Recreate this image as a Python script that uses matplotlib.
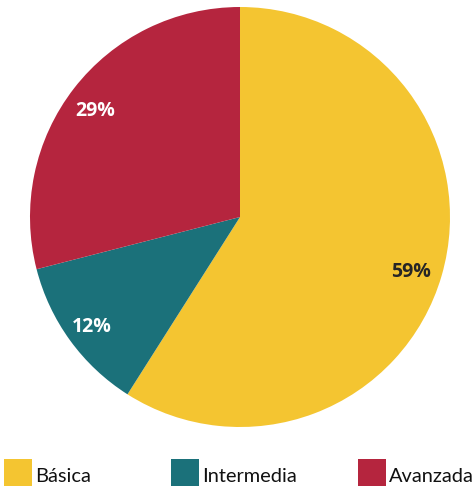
import matplotlib
matplotlib.use("Agg")
import matplotlib.pyplot as plt
from matplotlib.patches import Rectangle

categories = ["Básica", "Intermedia", "Avanzada"]
values = [59, 12, 29]
colors = ["#F4C531", "#1B717A", "#B5253E"]
label_colors = ["#262626", "white", "white"]

plt.rcParams['font.family'] = ['Lato', 'DejaVu Sans']

fig = plt.figure(figsize=(4.75, 4.86), dpi=100)
W, H = 475, 486
cx, cy, r = 240, 217, 210
ax = fig.add_axes([(cx - r) / W, (H - cy - r) / H, 2 * r / W, 2 * r / H])

wedges, texts, autotexts = ax.pie(
    values, colors=colors, startangle=90, counterclock=False,
    autopct=lambda p: f"{p:.0f}%", pctdistance=0.86,
    wedgeprops=dict(linewidth=0))
for t, c in zip(autotexts, label_colors):
    t.set_color(c)
    t.set_fontfamily(['Open Sans', 'DejaVu Sans'])
    t.set_fontsize(14)
    t.set_fontweight('bold')
    x, y = t.get_position()
    t.set_position((x - 0.01, y - 0.02))
ax.set_xlim(-1, 1)
ax.set_ylim(-1, 1)
ax.set_aspect('equal')

# legend (manual layout)
leg_x = [4, 171, 358]
sq = 28
sq_top = 459
for x, lab, col in zip(leg_x, categories, colors):
    fig.patches.append(Rectangle((x / W, (H - sq_top - sq) / H), sq / W, sq / H,
                                 transform=fig.transFigure, facecolor=col,
                                 edgecolor='none'))
    fig.text((x + sq + 3) / W, (H - 482) / H, lab, fontsize=14.4,
             color='#111111', ha='left', va='baseline')

fig.savefig("out.png", dpi=100)
